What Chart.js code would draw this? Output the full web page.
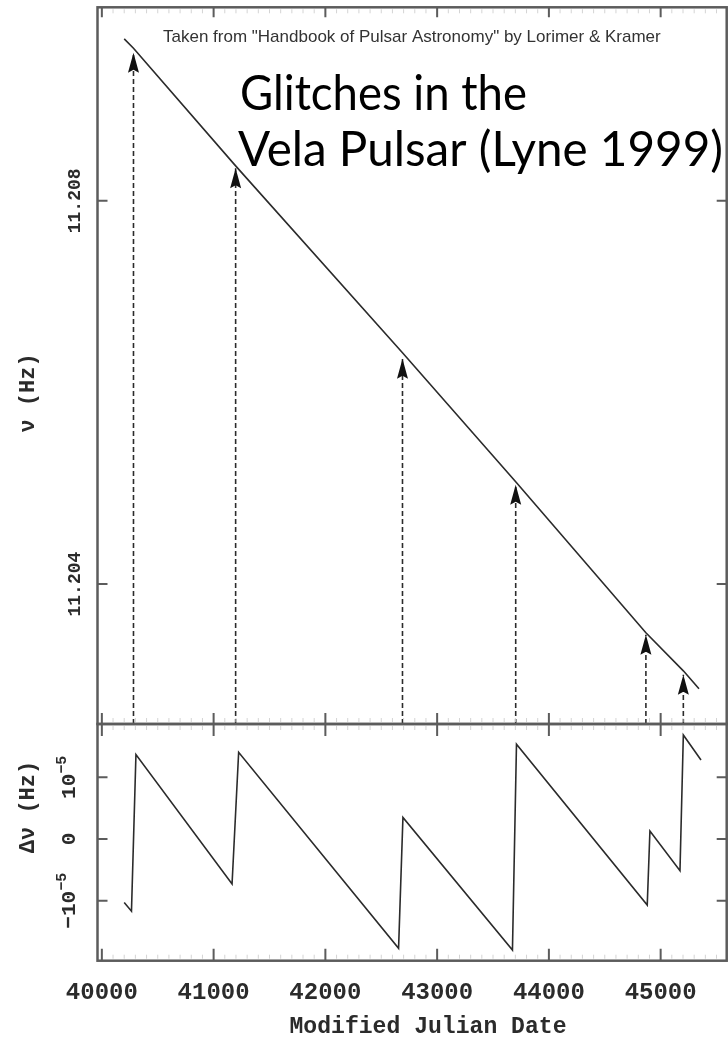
<!DOCTYPE html>
<html>
<head>
<meta charset="utf-8">
<script src="https://cdn.jsdelivr.net/npm/chart.js@4.4.1/dist/chart.umd.min.js"></script>
<style>
  html, body { margin: 0; padding: 0; background: #fff; }
  #wrap { position: relative; width: 728px; height: 1041px; background: #fff; }
  #wrap canvas { position: absolute; left: 0; top: 0; }
</style>
</head>
<body>
<div id="wrap">
  <canvas id="nuChart" width="728" height="1041"></canvas>
  <canvas id="dnuChart" width="728" height="1041"></canvas>
</div>
<script>
// ---- time axis (Modified Julian Date) ----
const mjdRange = [39961, 45591];
const mjdTicks = [40000, 41000, 42000, 43000, 44000, 45000];
const mjdMinorStep = 100;

// ---- upper panel: spin frequency of the Vela pulsar (Hz) ----
const nuRange = [11.20254, 11.21002];
const nuTicks = [11.204, 11.208];
const nuTickLabels = ['11.204', '11.208'];
const nuMJD = [40200, 40283, 41197, 42690, 43703, 44868, 45203, 45343];
const nuHz  = [11.209690, 11.209593, 11.208365, 11.206414, 11.205068, 11.203492, 11.203095, 11.202908];

// glitch epochs (arrows) and the frequency at each arrow tip
const glitchMJD  = [40283, 41197, 42690, 43703, 44868, 45203];
const arrowTipHz = [11.209545, 11.208341, 11.206351, 11.205036, 11.203471, 11.203054];

// ---- lower panel: frequency residual, in units of 1e-6 Hz ----
const dnuRange = [-19.72, 18.64];
const dnuTicks = [-10, 0, 10];
const dnuTickLabels = [['\u221210', '\u22125'], ['0', ''], ['10', '\u22125']];
const dnuMJD = [40200, 40265, 40305, 41165, 41224, 42655, 42694, 43674, 43710, 44880, 44904, 45173, 45203, 45361];
const dnuMicroHz = [-10.3, -11.7, 13.7, -7.3, 14.05, -17.7, 3.5, -18.0, 15.35, -10.7, 1.3, -5.15, 16.85, 12.8];

// ---- styling ----
const INK = '#2b2b2b';
const FRAME = '#5c5c5c';
const MONO = '"Liberation Mono", "DejaVu Sans Mono", monospace';

function drawRotated(ctx, parts, cx, cy) {
  // lays text parts out bottom-to-top, centred on (cx, cy)
  ctx.save();
  ctx.translate(cx, cy);
  ctx.rotate(-Math.PI / 2);
  ctx.textBaseline = 'middle';
  ctx.textAlign = 'left';
  let total = 0;
  parts.forEach(p => { ctx.font = p.font; p.w = ctx.measureText(p.t).width; total += p.w; });
  let x = -total / 2;
  parts.forEach(p => {
    ctx.font = p.font;
    ctx.fillStyle = INK;
    ctx.fillText(p.t, x, p.dy || 0);
    x += p.w;
  });
  ctx.restore();
}

function frameAndTicks(chart, yTicks, opt) {
  const { ctx, chartArea: a, scales: { x, y } } = chart;
  ctx.save();
  // faint minor ticks along the time axis
  ctx.strokeStyle = '#d4d4d4';
  ctx.lineWidth = 1;
  for (let m = Math.ceil(mjdRange[0] / mjdMinorStep) * mjdMinorStep; m <= mjdRange[1]; m += mjdMinorStep) {
    if (mjdTicks.includes(m)) continue;
    const px = x.getPixelForValue(m);
    ctx.beginPath();
    ctx.moveTo(px, a.top + 2); ctx.lineTo(px, a.top + 6);
    ctx.moveTo(px, a.bottom - 2); ctx.lineTo(px, a.bottom - 6);
    ctx.stroke();
  }
  // major ticks, pointing into the panel
  ctx.strokeStyle = FRAME;
  ctx.lineWidth = 2;
  mjdTicks.forEach(m => {
    const px = x.getPixelForValue(m);
    ctx.beginPath();
    ctx.moveTo(px, a.top); ctx.lineTo(px, a.top + opt.topTick);
    ctx.moveTo(px, a.bottom); ctx.lineTo(px, a.bottom - opt.bottomTick);
    ctx.stroke();
  });
  yTicks.forEach(v => {
    const py = y.getPixelForValue(v);
    ctx.beginPath();
    ctx.moveTo(a.left, py); ctx.lineTo(a.left + 10, py);
    ctx.moveTo(a.right, py); ctx.lineTo(a.right - 10, py);
    ctx.stroke();
  });
  // panel frame
  ctx.lineWidth = 2.5;
  ctx.strokeRect(a.left, a.top, a.right - a.left, a.bottom - a.top);
  ctx.restore();
}

function baseOptions(yMin, yMax, padding) {
  return {
    responsive: false,
    animation: false,
    devicePixelRatio: 1,
    layout: { padding },
    plugins: { legend: { display: false }, tooltip: { enabled: false }, title: { display: false } },
    elements: { point: { radius: 0 }, line: { tension: 0 } },
    scales: {
      x: { type: 'linear', min: mjdRange[0], max: mjdRange[1], display: false },
      y: { type: 'linear', min: yMin, max: yMax, display: false }
    }
  };
}

// ---------- upper panel ----------
const nuDatasets = [{
  data: nuMJD.map((m, i) => ({ x: m, y: nuHz[i] })),
  borderColor: INK,
  borderWidth: 1.6,
  fill: false
}];
glitchMJD.forEach((m, i) => {
  nuDatasets.push({
    data: [{ x: m, y: nuRange[0] }, { x: m, y: arrowTipHz[i] }],
    borderColor: INK,
    borderWidth: 1.6,
    borderDash: [5, 3],
    fill: false
  });
});

const upperPanel = {
  id: 'upperPanel',
  afterDatasetsDraw(chart) {
    const { ctx, scales: { x, y } } = chart;
    // arrow heads at the glitch epochs
    ctx.save();
    ctx.fillStyle = '#111';
    glitchMJD.forEach((m, i) => {
      const px = x.getPixelForValue(m);
      const py = y.getPixelForValue(arrowTipHz[i]);
      ctx.beginPath();
      ctx.moveTo(px, py);
      ctx.lineTo(px + 5.5, py + 20);
      ctx.lineTo(px, py + 17);
      ctx.lineTo(px - 5.5, py + 20);
      ctx.closePath();
      ctx.fill();
    });
    ctx.restore();
  },
  afterDraw(chart) {
    const { ctx, scales: { y } } = chart;
    frameAndTicks(chart, nuTicks, { topTick: 10, bottomTick: 11 });

    nuTicks.forEach((v, i) => {
      drawRotated(ctx, [{ t: nuTickLabels[i], font: 'bold 18px ' + MONO }], 75.5, y.getPixelForValue(v));
    });
    drawRotated(ctx, [{ t: '\u03bd (Hz)', font: 'bold 22px ' + MONO }], 28, 393);

    ctx.save();
    ctx.fillStyle = '#333';
    ctx.textAlign = 'left';
    ctx.textBaseline = 'alphabetic';
    ctx.font = '17px "Liberation Sans", Arial, sans-serif';
    ctx.fillText('Taken from "Handbook of Pulsar Astronomy" by Lorimer & Kramer', 163, 42, 553);

    ctx.fillStyle = '#000';
    ctx.font = '48px Lato, "Open Sans", sans-serif';
    ctx.fillText('Glitches in the', 240, 110, 287);
    ctx.fillText('Vela Pulsar (Lyne 1999)', 238, 166, 485);
    ctx.restore();
  }
};

new Chart(document.getElementById('nuChart'), {
  type: 'line',
  data: { datasets: nuDatasets },
  options: baseOptions(nuRange[0], nuRange[1], { left: 97.5, right: 1.3, top: 7.3, bottom: 1041 - 724 }),
  plugins: [upperPanel]
});

// ---------- lower panel ----------
const lowerPanel = {
  id: 'lowerPanel',
  afterDraw(chart) {
    const { ctx, scales: { x, y } } = chart;
    frameAndTicks(chart, dnuTicks, { topTick: 12, bottomTick: 12 });

    dnuTicks.forEach((v, i) => {
      const [main, sup] = dnuTickLabels[i];
      const parts = [{ t: main, font: 'bold 21px ' + MONO }];
      if (sup) parts.push({ t: sup, font: 'bold 15px ' + MONO, dy: -8 });
      drawRotated(ctx, parts, 70, y.getPixelForValue(v));
    });
    drawRotated(ctx, [{ t: '\u0394\u03bd (Hz)', font: 'bold 22px ' + MONO }], 28, 807);

    ctx.save();
    ctx.fillStyle = INK;
    ctx.textAlign = 'center';
    ctx.textBaseline = 'middle';
    ctx.font = 'bold 24px ' + MONO;
    mjdTicks.forEach(m => ctx.fillText(String(m), x.getPixelForValue(m), 993, 78));
    ctx.fillText('Modified Julian Date', 428, 1027, 277);
    ctx.restore();
  }
};

new Chart(document.getElementById('dnuChart'), {
  type: 'line',
  data: {
    datasets: [{
      data: dnuMJD.map((m, i) => ({ x: m, y: dnuMicroHz[i] })),
      borderColor: INK,
      borderWidth: 1.6,
      fill: false
    }]
  },
  options: baseOptions(dnuRange[0], dnuRange[1], { left: 97.5, right: 1.3, top: 724, bottom: 1041 - 960.7 }),
  plugins: [lowerPanel]
});
</script>
</body>
</html>
